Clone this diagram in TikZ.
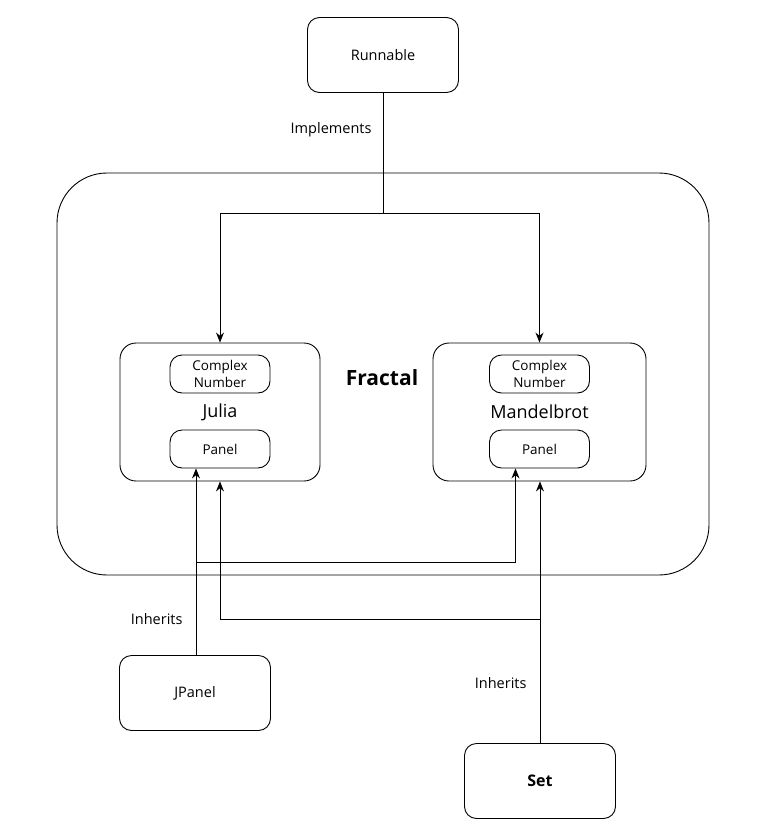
\documentclass[tikz,border=0pt]{standalone}
\usepackage{fontspec}
\setmainfont{Open Sans}
\usetikzlibrary{arrows.meta}
\tikzset{
  box/.style={draw,rounded corners=12,line width=0.9pt,inner sep=0pt,align=center},
  lbl/.style={font=\fontsize{14.5}{16}\selectfont},
  inbox/.style={box,minimum width=100,minimum height=38,font=\fontsize{13.5}{16.5}\selectfont},
  arr/.style={line width=0.9pt,-{Stealth[length=10pt,width=8pt]}}
}

\begin{document}
\begin{tikzpicture}[x=1pt,y=-1pt,lbl]
  \useasboundingbox (0,0) rectangle (782,839);
  \node[box,rounded corners=50,minimum width=652,minimum height=402] (fractal) at (383,374) {};
  \node[font=\fontsize{21}{24}\selectfont\bfseries] (fractaltxt) at (382,378) {Fractal};
  \node[box,minimum width=151,minimum height=75] (runnable) at (383,55) {Runnable};
  \node[box,rounded corners=16,minimum width=200,minimum height=138] (julia) at (220,412) {};
  \node[box,rounded corners=16,minimum width=213,minimum height=138] (mandel) at (539.5,412) {};
  \node[inbox] (jcomplex) at (220,374) {Complex\\Number};
  \node[inbox] (mcomplex) at (539.5,374) {Complex\\Number};
  \node[font=\fontsize{18}{21}\selectfont] (jname) at (220,412) {Julia};
  \node[font=\fontsize{18}{21}\selectfont] (mname) at (539.5,412) {Mandelbrot};
  \node[inbox] (jpanelin) at (220,449) {Panel};
  \node[inbox] (mpanelin) at (539.5,449) {Panel};
  \node[box,minimum width=151,minimum height=75] (jpanel) at (195,693) {JPanel};
  \node[box,minimum width=151,minimum height=75,font=\fontsize{16}{18}\selectfont\bfseries] (set) at (540,781) {Set};
  % implements
  \coordinate (split) at (383,213);
  \draw[line width=0.9pt] (runnable.south) -- (split);
  \draw[arr] (split) -| (julia.north);
  \draw[arr] (split) -| (mandel.north);
  \node[anchor=east] (impl) at (375,130) {Implements};
  % inherits
  \coordinate (jsplit) at (196,562);
  \draw[arr] (jpanel.north -| jsplit) -- (jsplit |- jpanelin.south);
  \draw[arr] (jsplit) -| ([xshift=-24]mpanelin.south);
  \coordinate (ssplit) at (540,619);
  \draw[arr] (set.north) -- (set.north |- mandel.south);
  \draw[arr] (ssplit) -| (julia.south);
  \node[anchor=east] (inh1) at (186,619) {Inherits};
  \node[anchor=east] (inh2) at (530,683) {Inherits};
\end{tikzpicture}
\end{document}
